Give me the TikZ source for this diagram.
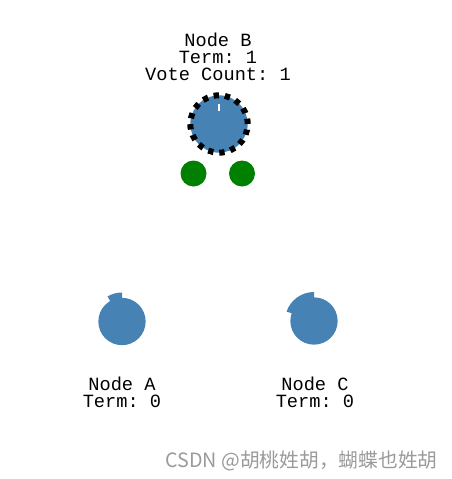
\documentclass[tikz,border=0pt]{standalone}
\usepackage{fontspec}
\setmonofont{Liberation Mono}
\newfontfamily\cjkfont{Noto Sans CJK SC}
\definecolor{raftblue}{HTML}{4682B4}
\definecolor{votegreen}{HTML}{008000}
\definecolor{wmgray}{HTML}{9A9A9A}
\begin{document}
\begin{tikzpicture}[x=0.75pt,y=-0.75pt,
  server/.style={circle,fill=raftblue,minimum size=35.5pt,inner sep=0pt},
  voteball/.style={circle,fill=votegreen,minimum size=19.5pt,inner sep=0pt},
  lbl/.style={font=\ttfamily\fontsize{14pt}{12.75pt}\selectfont,align=center,anchor=base,inner sep=0pt},
  timer/.style={fill=raftblue}]
\useasboundingbox (0,0) rectangle (452,479);
% Node B (candidate with dashed border)
\node[circle,fill=raftblue,draw=black,line width=4.5pt,dash pattern=on 4pt off 4.45pt,minimum size=43pt,inner sep=0pt] (B) at (219,124) {};
\coordinate (Btick1) at (219,104);
\coordinate (Btick2) at (219,111);
\draw[white,line width=1.2pt] (Btick1) -- (Btick2);
\node[voteball] (v1) at (193.5,173.5) {};
\node[voteball] (v2) at (242,173.5) {};
\node[lbl] (labB) at (218,80) {Node B\\Term: 1\\Vote Count: 1};
% Node A
\node[server] (A) at (122,321.5) {};
\fill[timer] (A.center) -- ++(240:29) arc[start angle=240,end angle=270,radius=29] -- cycle;
\node[lbl] (labA) at (122,407) {Node A\\Term: 0};
% Node C
\node[server] (C) at (314,321) {};
\fill[timer] (C.center) -- ++(199:29) arc[start angle=199,end angle=270,radius=29] -- cycle;
\node[lbl] (labC) at (315,407) {Node C\\Term: 0};
% watermark
\node[font=\cjkfont\fontsize{14.8pt}{17pt}\selectfont,text=wmgray,anchor=base,inner sep=0pt] (wm) at (301.5,467) {CSDN @胡桃姓胡，蝴蝶也姓胡};
\end{tikzpicture}
\end{document}
